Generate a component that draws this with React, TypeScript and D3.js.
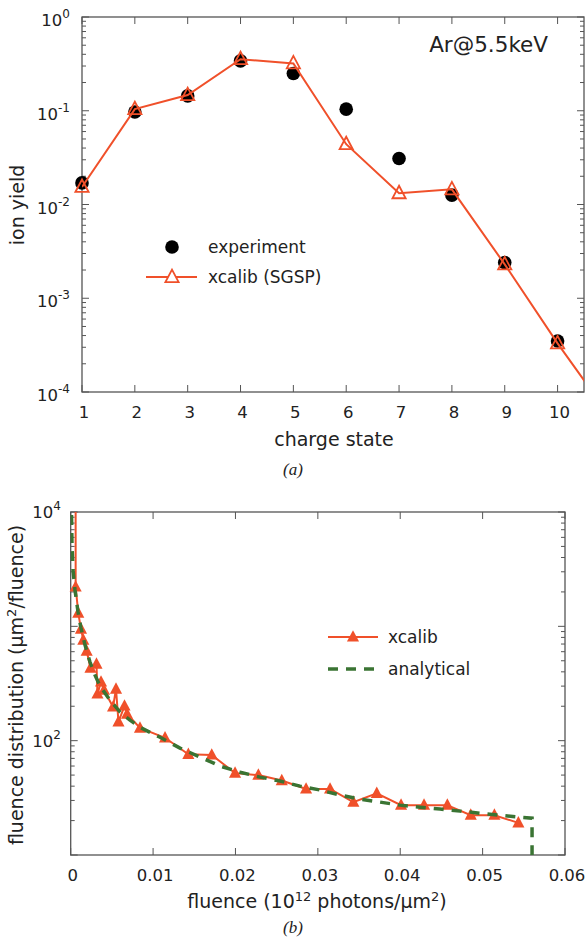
import React from "react"
import * as d3 from "d3"

// panel (a): ion yield vs charge state
const chargeStates = [1, 2, 3, 4, 5, 6, 7, 8, 9, 10]
const experimentYield = [0.017, 0.097, 0.144, 0.34, 0.25, 0.104, 0.031, 0.0126, 0.0024, 0.00035]
// xcalib runs one step past the axis end, so the line leaves the frame
const xcalibStates = [1, 2, 3, 4, 5, 6, 7, 8, 9, 10, 11]
const xcalibYield = [0.0154, 0.104, 0.147, 0.355, 0.32, 0.044, 0.0132, 0.0145, 0.0023, 0.00033, 0.000054]

// panel (b): fluence distribution
const xcalibFluence = [0.0006, 0.0006, 0.00092, 0.00125, 0.00153, 0.00194, 0.0024, 0.00313, 0.00325, 0.00368, 0.00404,
    0.00514, 0.0055, 0.0058, 0.00653, 0.00684, 0.00841, 0.01145, 0.01428, 0.01712, 0.01995, 0.02278, 0.02562,
    0.02857, 0.03148, 0.03431, 0.03715, 0.0401, 0.04289, 0.04572, 0.04856, 0.05143, 0.05434]
const xcalibDist = [30000, 2210, 1306, 946, 759, 608, 432, 468, 256, 326, 277,
    197, 283, 146, 201, 171, 129, 106, 76, 75, 52, 50, 44.8,
    37.8, 37.8, 29, 34.6, 27.3, 27.3, 27.3, 22.3, 22.3, 19.1]
const analyticalFluence = [0.0001, 0.00016, 0.00028, 0.00052, 0.00089, 0.00125, 0.00174, 0.00234, 0.00295, 0.00356,
    0.00477, 0.00599, 0.0072, 0.00841, 0.01084, 0.01327, 0.01569, 0.01812, 0.02056, 0.02298, 0.02541, 0.02784,
    0.03027, 0.03269, 0.03512, 0.03755, 0.03998, 0.0424, 0.04483, 0.04726, 0.04969, 0.05212, 0.05454, 0.056, 0.056]
const analyticalDist = [9400, 5140, 3110, 2080, 1333, 966, 686, 487, 375, 300,
    226, 178, 151, 131, 107, 86, 72, 60, 53, 48, 44.4, 40,
    37, 33.4, 30.8, 29, 27.3, 26.2, 25.2, 24.2, 23.2, 22.3, 21.4, 21, 10]

const xTicksA = [1, 2, 3, 4, 5, 6, 7, 8, 9, 10]
const xTicksB = [0, 0.01, 0.02, 0.03, 0.04, 0.05, 0.06]
const yLabelsB = [1e4, 1e2]

const ORANGE = "#f0502a"
const GREEN = "#3a7433"
const AXIS = "#555"
const FONT = "DejaVu Sans"
const TICK = 16.5
const LABEL = 19

const Pow = ({x, y, exp, anchor = "end"}: any) => (
    <text x={x} y={y} textAnchor={anchor} fontFamily={FONT} fontSize={TICK} fill="#222">
        10<tspan dy={-8} fontSize={12}>{exp}</tspan>
    </text>
)

const tri = (cx: number, cy: number, s: number) =>
    `M${cx},${cy - s * 0.62} L${cx + s * 0.55},${cy + s * 0.42} L${cx - s * 0.55},${cy + s * 0.42} Z`

const App = () => {
    // ---- panel (a)
    const ma = {left: 82, right: 584, top: 17, bottom: 392}
    const xa = d3.scaleLinear().domain([1, 10.5]).range([ma.left, ma.right])
    const ya = d3.scaleLog().domain([1e-4, 1]).range([ma.bottom, ma.top])
    const yTicksA = ya.ticks()
    const lineA = d3.line<number>().x((d, i) => xa(xcalibStates[i])).y(d => ya(d))

    // ---- panel (b)
    const mb = {left: 70.7, right: 565, top: 512, bottom: 855}
    const xb = d3.scaleLinear().domain([0, 0.06]).range([mb.left, mb.right])
    const yb = d3.scaleLog().domain([10, 1e4]).range([mb.bottom, mb.top])
    const yTicksB = yb.ticks()
    const lineX = d3.line<number>().x((d, i) => xb(xcalibFluence[i])).y(d => yb(d))
    const lineAn = d3.line<number>().x((d, i) => xb(analyticalFluence[i])).y(d => yb(d))

    const isMajor = (v: number) => Math.abs(Math.log10(v) - Math.round(Math.log10(v))) < 1e-6

    return (
        <svg width={587} height={943} style={{position: "absolute", left: 0, top: 0, background: "#fff"}}>
            <defs>
                <clipPath id="clipA"><rect x={ma.left} y={ma.top} width={ma.right - ma.left} height={ma.bottom - ma.top} /></clipPath>
                <clipPath id="clipB"><rect x={mb.left} y={mb.top} width={mb.right - mb.left} height={mb.bottom - mb.top} /></clipPath>
            </defs>

            {/* ================= panel (a) ================= */}
            <rect x={ma.left} y={ma.top} width={ma.right - ma.left} height={ma.bottom - ma.top} fill="none" stroke={AXIS} strokeWidth={1.3} />
            {xTicksA.map(t => (
                <g key={"xa" + t}>
                    <line x1={xa(t)} x2={xa(t)} y1={ma.bottom} y2={ma.bottom - 7} stroke={AXIS} />
                    <line x1={xa(t)} x2={xa(t)} y1={ma.top} y2={ma.top + 7} stroke={AXIS} />
                    <text x={xa(t) + 2} y={418} textAnchor="middle" fontFamily={FONT} fontSize={TICK} fill="#222">{t}</text>
                </g>
            ))}
            {yTicksA.map((t, i) => {
                const len = isMajor(t) ? 7 : 4
                return (
                    <g key={"ya" + i}>
                        <line x1={ma.left} x2={ma.left + len} y1={ya(t)} y2={ya(t)} stroke={AXIS} />
                        <line x1={ma.right} x2={ma.right - len} y1={ya(t)} y2={ya(t)} stroke={AXIS} />
                        {isMajor(t) && <Pow x={70} y={ya(t) + 9} exp={Math.round(Math.log10(t))} />}
                    </g>
                )
            })}
            <text transform="translate(24,205) rotate(-90)" textAnchor="middle" fontFamily={FONT} fontSize={LABEL} fill="#222">ion yield</text>
            <text x={334} y={446} textAnchor="middle" fontFamily={FONT} fontSize={LABEL} fill="#222">charge state</text>
            <text x={548} y={52} textAnchor="end" fontFamily={FONT} fontSize={21.5} fill="#222">Ar@5.5keV</text>

            {experimentYield.map((v, i) => (
                <circle key={"e" + i} cx={xa(chargeStates[i])} cy={ya(v)} r={6.8} fill="#000" />
            ))}
            <path d={lineA(xcalibYield) || ""} fill="none" stroke={ORANGE} strokeWidth={2} clipPath="url(#clipA)" />
            {xcalibYield.map((v, i) => xcalibStates[i] <= 10.5 && (
                <path key={"x" + i} d={tri(xa(xcalibStates[i]), ya(v), 12)} fill="none" stroke={ORANGE} strokeWidth={1.8} />
            ))}

            {/* legend (a) */}
            <circle cx={172} cy={247} r={6.8} fill="#000" />
            <text x={208} y={253} fontFamily={FONT} fontSize={17} fill="#222">experiment</text>
            <line x1={146} x2={197} y1={277} y2={277} stroke={ORANGE} strokeWidth={2} />
            <path d={tri(172, 277, 12)} fill="#fff" stroke={ORANGE} strokeWidth={1.8} />
            <text x={208} y={283} fontFamily={FONT} fontSize={17} fill="#222">xcalib (SGSP)</text>

            <text x={293} y={475} textAnchor="middle" fontFamily="Liberation Serif" fontStyle="italic" fontSize={17} fill="#222">(a)</text>

            {/* ================= panel (b) ================= */}
            <rect x={mb.left} y={mb.top} width={mb.right - mb.left} height={mb.bottom - mb.top} fill="none" stroke={AXIS} strokeWidth={1.3} />
            {xTicksB.map(t => (
                <g key={"xb" + t}>
                    <line x1={xb(t)} x2={xb(t)} y1={mb.bottom} y2={mb.bottom - 7} stroke={AXIS} />
                    <line x1={xb(t)} x2={xb(t)} y1={mb.top} y2={mb.top + 7} stroke={AXIS} />
                    <text x={xb(t) + 2} y={881} textAnchor="middle" fontFamily={FONT} fontSize={TICK} fill="#222">{t}</text>
                </g>
            ))}
            {yTicksB.map((t, i) => {
                const len = isMajor(t) ? 7 : 4
                return (
                    <g key={"yb" + i}>
                        <line x1={mb.left} x2={mb.left + len} y1={yb(t)} y2={yb(t)} stroke={AXIS} />
                        <line x1={mb.right} x2={mb.right - len} y1={yb(t)} y2={yb(t)} stroke={AXIS} />
                    </g>
                )
            })}
            {yLabelsB.map(t => (
                <Pow key={"lb" + t} x={61} y={yb(t) + 6} exp={Math.round(Math.log10(t))} />
            ))}
            <text transform="translate(23,685) rotate(-90)" textAnchor="middle" fontFamily={FONT} fontSize={LABEL} fill="#222">
                fluence distribution (μm<tspan dy={-7} fontSize={13}>2</tspan><tspan dy={7}>/fluence)</tspan>
            </text>
            <text x={317} y={908} textAnchor="middle" fontFamily={FONT} fontSize={LABEL} fill="#222">
                fluence (10<tspan dy={-7} fontSize={13}>12</tspan><tspan dy={7}> photons/μm</tspan><tspan dy={-7} fontSize={13}>2</tspan><tspan dy={7}>)</tspan>
            </text>

            <path d={lineX(xcalibDist) || ""} fill="none" stroke={ORANGE} strokeWidth={2} clipPath="url(#clipB)" />
            {xcalibDist.map((v, i) => v <= 1e4 && (
                <path key={"xb" + i} d={tri(xb(xcalibFluence[i]), yb(v), 11)} fill={ORANGE} />
            ))}
            <path d={lineAn(analyticalDist) || ""} fill="none" stroke={GREEN} strokeWidth={3.5} strokeDasharray="10,8" clipPath="url(#clipB)" />

            {/* legend (b) */}
            <line x1={328} x2={378} y1={637} y2={637} stroke={ORANGE} strokeWidth={2} />
            <path d={tri(353, 637, 11)} fill={ORANGE} />
            <text x={388} y={643} fontFamily={FONT} fontSize={17} fill="#222">xcalib</text>
            <line x1={328} x2={378} y1={669} y2={669} stroke={GREEN} strokeWidth={3.5} strokeDasharray="10,8" />
            <text x={388} y={675} fontFamily={FONT} fontSize={17} fill="#222">analytical</text>

            <text x={293} y={933} textAnchor="middle" fontFamily="Liberation Serif" fontStyle="italic" fontSize={17} fill="#222">(b)</text>
        </svg>
    )
}

export default App
